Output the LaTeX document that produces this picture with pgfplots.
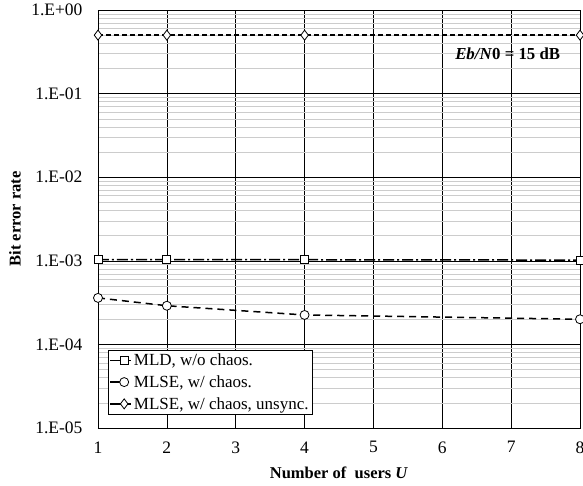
\documentclass[border=0pt]{standalone}
\usepackage{fontspec}
\setmainfont{Liberation Serif}
\usepackage{pgfplots}
\pgfplotsset{compat=1.18}
\begin{document}
\begin{tikzpicture}
\begin{axis}[
    name=ax,
    width=482pt, height=418pt, scale only axis,
    ymode=log,
    xmin=1, xmax=8, ymin=1e-5, ymax=1,
    xtick={1,2,3,4,5,6,7,8},
    ytick={1e-5,1e-4,1e-3,1e-2,1e-1,1},
    yticklabels={1.E-05,1.E-04,1.E-03,1.E-02,1.E-01,1.E+00},
    tick style={draw=none},
    grid=both,
    major grid style={black, line width=0.6pt},
    minor grid style={gray!40, line width=0.5pt},
    minor x tick num=0,
    axis line style={black, line width=0.8pt},
    ticklabel style={font=\fontsize{17.5}{19}\selectfont},
    xticklabel style={yshift=-10pt},
    yticklabel style={xshift=-12pt},
    /pgf/number format/assume math mode=true,
    xlabel={\textbf{Number of\ \ users \textit{U}}},
    ylabel={\textbf{Bit error rate}},
    label style={font=\fontsize{16.5}{18}\selectfont},
    xlabel style={at={(axis description cs:0.5,-0.108)}, anchor=center},
    ylabel style={at={(axis description cs:-0.172,0.5)}, anchor=center},
    clip=false,
    legend style={at={(0.02,0.187)}, anchor=north west, draw=black, line width=0.6pt,
        font=\fontsize{17}{19}\selectfont, inner sep=1.5pt, row sep=4.5pt,
        cells={anchor=west}},
    legend image code/.code={
        \path (0pt,0pt) -- (21pt,0pt);
        \draw[#1, mark=none, line width=1.3pt] (3pt,0pt) -- (10pt,0pt);
        \draw[#1, only marks] plot coordinates {(14pt,0pt)};},
]
\addplot[black, line width=1.5pt, dash pattern=on 11pt off 3pt on 2pt off 3pt,
    mark=square*, mark size=4pt, mark options={solid, fill=white, line width=0.8pt}]
    coordinates {(1,1.03e-3) (2,1.03e-3) (4,1.03e-3) (8,1.02e-3)};
\addlegendentry{MLD, w/o chaos.}
\addplot[black, line width=1.5pt, dash pattern=on 7pt off 5pt,
    mark=*, mark size=4.5pt, mark options={solid, fill=white, line width=0.8pt}]
    coordinates {(1,3.6e-4) (2,2.9e-4) (4,2.25e-4) (8,2.0e-4)};
\addlegendentry{MLSE, w/ chaos.}
\addplot[black, line width=1.5pt, dash pattern=on 5pt off 3pt,
    mark=diamond*, mark size=5pt, mark options={solid, fill=white, line width=0.8pt}]
    coordinates {(1,0.50) (2,0.50) (4,0.50) (8,0.50)};
\addlegendentry{MLSE, w/ chaos, unsync.}
\node[inner sep=1pt, font=\fontsize{16.8}{18}\selectfont] at (axis cs:6.95,0.3)
    {\textbf{\textit{Eb/N}0 = 15 dB}};
\end{axis}
\pgfresetboundingbox
\useasboundingbox ([xshift=-98pt,yshift=-58pt]ax.south west) rectangle ([xshift=3pt,yshift=10pt]ax.north east);
\end{tikzpicture}
\end{document}
